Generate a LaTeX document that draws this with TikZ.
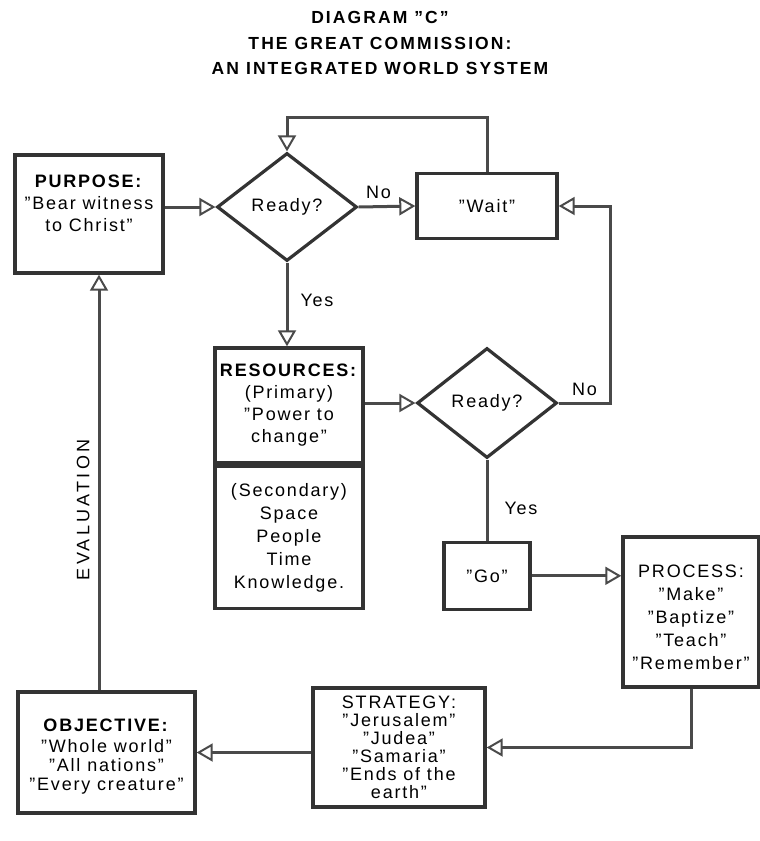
\documentclass[tikz,border=0pt]{standalone}
\usepackage{fontspec}
\setmainfont{Liberation Sans}[LetterSpace=10]
\newfontfamily\titlefont{Liberation Sans}[Ligatures=TeX,LetterSpace=12]
\usepackage{tikz}
\usetikzlibrary{arrows.meta,positioning,shapes.geometric}
\definecolor{ink}{HTML}{333333}
\definecolor{linegray}{HTML}{4A4A4A}
\tikzset{
  box/.style={draw=ink,line width=3.4pt,fill=white,align=center,inner sep=3pt,font=\fontsize{18}{22}\selectfont},
  dia/.style={diamond,draw=ink,line width=3.2pt,fill=white,minimum width=140pt,minimum height=108pt,inner sep=2pt,font=\fontsize{18}{22}\selectfont},
  arr/.style={-{Triangle[open,length=16pt,width=18pt,line width=2pt]},line width=3pt,draw=linegray},
  plain/.style={line width=3pt,draw=linegray},
  lbl/.style={font=\fontsize{18}{20}\selectfont,inner sep=2pt},
  ttl/.style={font=\titlefont\bfseries\fontsize{17.5}{25.5}\selectfont,align=center},
}

\begin{document}
\begin{tikzpicture}[x=1pt,y=-1pt]
  \useasboundingbox (0,0) rectangle (760,841);
  \node[ttl] (title) at (380,43) {DIAGRAM ''C''\\THE GREAT COMMISSION:\\AN INTEGRATED WORLD SYSTEM};
  % top row
  \node[box,minimum width=148pt,minimum height=118pt] (purpose) at (89,214) {\textbf{PURPOSE:}\\''Bear witness\\to Christ''\\~};
  \node[dia] (d1) at (287,207) {Ready?};
  \node[box,minimum width=140pt,minimum height=65pt] (wait) at (487,206) {''Wait''};
  % resources and second test
  \node[box,minimum width=148pt,minimum height=115pt] (resA) at (289,405.5) {\textbf{RESOURCES:}\\(Primary)\\''Power to\\change''};
  \node[box,minimum width=148pt,minimum height=142pt,below=0pt of resA,font=\fontsize{18}{23}\selectfont] (resB) {(Secondary)\\Space\\People\\Time\\Knowledge.};
  \node[dia,minimum height=110pt] (d2) at (487,403) {Ready?};
  \node[box,minimum width=86pt,minimum height=67pt,below=81pt of d2] (go) {''Go''};
  \node[box,minimum width=136pt,minimum height=150pt,font=\fontsize{18}{23}\selectfont] (process) at (691,612) {\mbox{}\\PROCESS:\\''Make''\\''Baptize''\\''Teach''\\''Remember''};
  % bottom row
  \node[box,minimum width=172pt,minimum height=119pt,font=\fontsize{18}{18}\selectfont] (strategy) at (399,747.5) {STRATEGY:\\''Jerusalem''\\''Judea''\\''Samaria''\\''Ends of the\\earth''};
  \node[box,minimum width=177pt,minimum height=121pt,font=\fontsize{18}{19}\selectfont] (objective) at (106.5,752.5) {\mbox{}\\[2pt]\textbf{OBJECTIVE:}\\[2pt]''Whole world''\\''All nations''\\''Every creature''};
  \coordinate (loop) at (287,117);
  \coordinate (evx) at (99,0);
  % connectors
  \draw[arr] (purpose.east |- d1.west) -- (d1.west);
  \draw[arr] (d1.east) -- node[lbl,above,pos=0.35,yshift=4pt] {No} (wait.west);
  \draw[arr] (wait.north) |- (loop) -- (d1.north);
  \draw[arr] (d1.south) -- node[lbl,right,pos=0.45,xshift=10pt] {Yes} (d1.south |- resA.north);
  \draw[arr] (resA.east |- d2.west) -- (d2.west);
  \draw[arr] (d2.east) -- node[lbl,above,yshift=4pt] {No} ++(52,0) |- (wait.east);
  \draw[plain] (d2.south) -- node[lbl,right,pos=0.6,xshift=14pt] {Yes} (go.north);
  \draw[arr] (go.east) -- (go.east -| process.west);
  \draw[arr] (process.south) |- (strategy.east);
  \draw[arr] (strategy.west |- objective.east) -- (objective.east);
  \draw[arr] (objective.north -| evx) -- node[lbl,pos=0.434,rotate=90,anchor=south,inner sep=8pt] {\addfontfeatures{LetterSpace=18}EVALUATION} (purpose.south -| evx);
\end{tikzpicture}
\end{document}
